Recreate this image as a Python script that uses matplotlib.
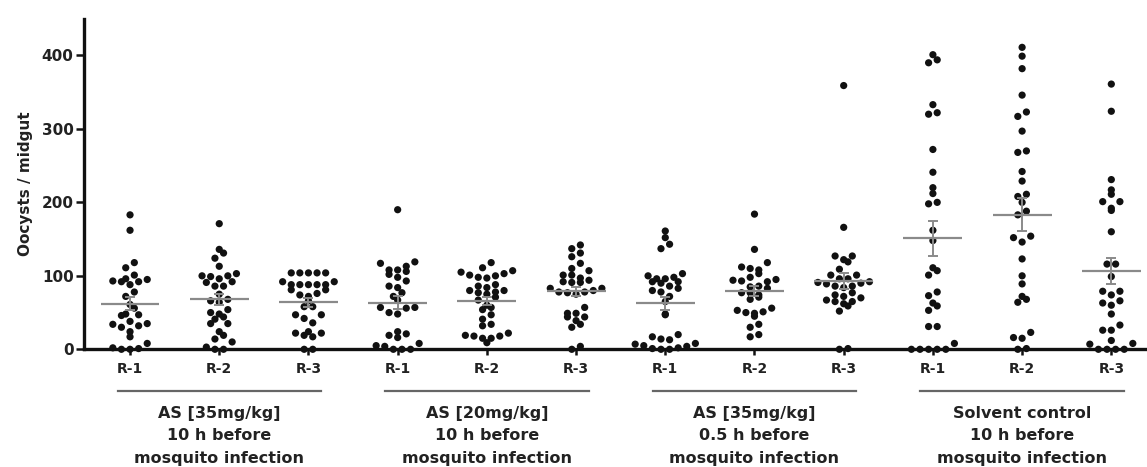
import numpy as np
import matplotlib
matplotlib.use("Agg")
import matplotlib.pyplot as plt
import matplotlib.transforms as mtransforms

# ---------------- data ----------------
tick_labels = ["R-1", "R-2", "R-3"] * 4
group_labels = [
    ["AS [35mg/kg]", "10 h before", "mosquito infection"],
    ["AS [20mg/kg]", "10 h before", "mosquito infection"],
    ["AS [35mg/kg]", "0.5 h before", "mosquito infection"],
    ["Solvent control", "10 h before", "mosquito infection"],
]
y_ticks = [0, 100, 200, 300, 400]
y_label = "Oocysts / midgut"

as35_10h_r1 = [183, 162, 118, 111, 101, 96, 95, 92, 92, 88, 93, 78, 72, 61, 56, 48, 47, 46,
               38, 35, 34, 32, 30, 24, 17, 8, 2, 0, 0, 1]
as35_10h_r2 = [171, 136, 131, 124, 113, 103, 100, 99, 100, 96, 92, 86, 86, 91, 75, 68, 66, 64,
               54, 50, 48, 44, 41, 35, 35, 24, 19, 14, 10, 3, 0, 0]
as35_10h_r3 = [104, 104, 104, 104, 104, 92, 88, 88, 88, 88, 88, 92, 81, 76, 72, 74, 81, 66,
               58, 58, 47, 42, 47, 36, 22, 19, 17, 22, 24, 0, 0]
as20_10h_r1 = [190, 119, 113, 117, 108, 102, 93, 98, 106, 108, 84, 86, 77, 72, 67, 57, 56, 48,
               50, 57, 24, 19, 16, 21, 5, 0, 0, 0, 4, 8]
as20_10h_r2 = [118, 111, 105, 100, 97, 101, 98, 103, 107, 86, 84, 80, 77, 75, 80, 78, 88, 71,
               67, 60, 54, 57, 47, 41, 34, 32, 19, 22, 18, 15, 18, 15, 9]
as20_10h_r3 = [142, 137, 131, 126, 117, 110, 107, 101, 101, 97, 94, 91, 91, 92, 83, 78, 75, 78,
               77, 80, 83, 57, 49, 44, 44, 49, 34, 30, 39, 0, 4]
as35_05h_r1 = [161, 152, 143, 137, 100, 96, 92, 92, 96, 98, 103, 90, 86, 83, 80, 78, 72, 65,
               47, 48, 20, 17, 14, 13, 5, 2, 8, 0, 4, 7, 0, 1]
as35_05h_r2 = [184, 136, 112, 103, 108, 110, 118, 93, 94, 95, 98, 92, 85, 86, 77, 71, 68, 74,
               77, 83, 50, 45, 53, 49, 51, 56, 34, 30, 17, 20]
as35_05h_r3 = [359, 166, 127, 122, 119, 127, 109, 101, 101, 96, 90, 86, 86, 89, 91, 96, 92, 84,
               74, 70, 65, 62, 67, 65, 72, 77, 59, 52, 0, 1]
solvent_r1 = [394, 390, 401, 333, 322, 320, 272, 241, 212, 220, 200, 198, 162, 148, 111, 101,
              107, 78, 73, 63, 53, 59, 31, 31, 8, 0, 0, 0, 0, 0]
solvent_r2 = [411, 399, 382, 346, 323, 317, 297, 270, 268, 242, 229, 211, 208, 200, 188, 183,
              154, 146, 152, 123, 100, 89, 72, 64, 68, 16, 15, 23, 0, 1]
solvent_r3 = [361, 324, 231, 211, 217, 201, 201, 192, 189, 160, 116, 116, 99, 79, 74, 79, 66,
              60, 63, 48, 33, 26, 26, 12, 7, 8, 0, 0, 0, 0]

groups = [as35_10h_r1, as35_10h_r2, as35_10h_r3,
          as20_10h_r1, as20_10h_r2, as20_10h_r3,
          as35_05h_r1, as35_05h_r2, as35_05h_r3,
          solvent_r1, solvent_r2, solvent_r3]

# ---------------- figure ----------------
W, H, DPI = 1147, 467, 100
fig = plt.figure(figsize=(W / DPI, H / DPI), dpi=DPI)
ax_left, ax_bottom = 84 / W, 1 - 349.3 / H
ax_w, ax_h = (W - 84) / W, 330.6 / H
ax = fig.add_axes([ax_left, ax_bottom, ax_w, ax_h])

xmin, xmax = 0.484, 12.40
ymin, ymax = 0, 450
ax.set_xlim(xmin, xmax)
ax.set_ylim(ymin, ymax)

px_per_x = ax_w * W / (xmax - xmin)
px_per_y = ax_h * H / (ymax - ymin)

ink = "#111111"
gray = "#8a8a8a"


def binned_offsets(values, bin_h_px, step_px):
    """GraphPad-like scatter: values binned in rows, spread symmetrically."""
    vals = np.asarray(values, float)
    bins = np.floor(vals * px_per_y / bin_h_px).astype(int)
    offs = np.zeros(len(vals))
    for b in np.unique(bins):
        idx = np.where(bins == b)[0]
        idx = idx[np.argsort(vals[idx], kind="stable")]
        n = len(idx)
        slots = (np.arange(n) - (n - 1) / 2.0) * step_px
        slot_order = sorted(range(n), key=lambda k: (abs(slots[k]), k % 2))
        for j, k in zip(idx, slot_order):
            offs[j] = slots[k]
    return offs


positions = np.arange(1, len(groups) + 1)
for pos, vals in zip(positions, groups):
    vals = np.asarray(vals, float)
    offs = binned_offsets(vals, 8.8, 8.6) / px_per_x
    ax.scatter(pos + offs, vals, s=27, color=ink, edgecolors="none",
               zorder=3, clip_on=False)
    m = vals.mean()
    sem = vals.std(ddof=1) / np.sqrt(len(vals))
    ax.hlines(m, pos - 0.33, pos + 0.33, color=gray, lw=1.6, zorder=4)
    ax.errorbar(pos, m, yerr=sem, fmt="none", ecolor=gray, elinewidth=1.4,
                capsize=3.5, capthick=1.4, zorder=4)

# axes styling
for side in ["top", "right"]:
    ax.spines[side].set_visible(False)
for side in ["left", "bottom"]:
    ax.spines[side].set_linewidth(2.4)
    ax.spines[side].set_color(ink)

ax.set_yticks(y_ticks)
ax.set_yticklabels([str(t) for t in y_ticks], fontsize=11, fontweight="bold", color="#222222")
ax.set_xticks(positions)
ax.set_xticklabels(tick_labels, fontsize=10, fontweight="bold", color="#222222")
ax.tick_params(axis="y", length=5.5, width=1.8, color=ink, pad=2)
ax.tick_params(axis="x", length=4.5, width=1.8, color=ink, pad=5)
ax.set_ylabel(y_label, fontsize=11, fontweight="bold", color="#222222", labelpad=6)

# group brackets and labels
trans = mtransforms.blended_transform_factory(ax.transData, ax.transAxes)
line_y = [-0.193, -0.262, -0.329]
for g, lines in enumerate(group_labels):
    c = positions[3 * g + 1]
    ax.plot([c - 1.14, c + 1.14], [-0.126, -0.126], transform=trans, color="#666666",
            lw=1.6, clip_on=False)
    for txt, yy in zip(lines, line_y):
        ax.text(c, yy, txt, transform=trans, ha="center", va="center", fontsize=11.5,
                fontweight="bold", color="#222222", clip_on=False)

fig.savefig("out.png", dpi=DPI)
